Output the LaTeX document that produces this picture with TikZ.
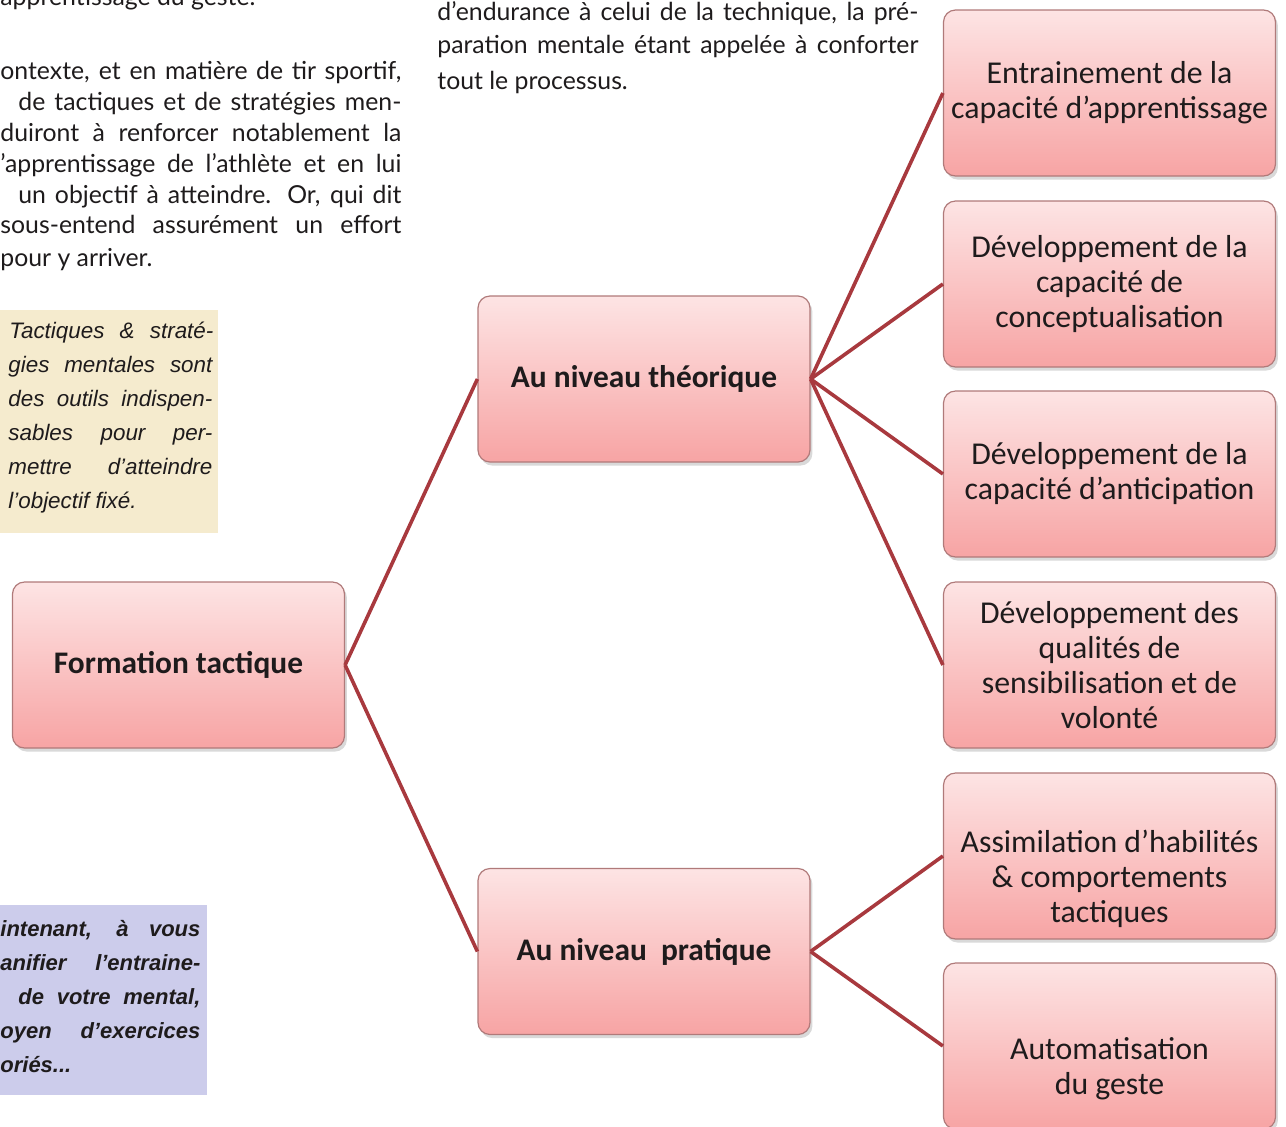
\documentclass[tikz,border=0pt]{standalone}
\usepackage{fontspec}
\setmainfont{Carlito}
\newfontfamily\gillfont{Lato}
\newfontfamily\arialfont{Liberation Sans}
\usetikzlibrary{shadows}
\definecolor{rosel}{HTML}{FDE4E4}
\definecolor{rosef}{HTML}{F7A4A4}
\definecolor{rand}{HTML}{B07A7A}
\definecolor{rougelien}{HTML}{A8393E}
\definecolor{beige}{HTML}{F5EBCE}
\definecolor{lila}{HTML}{CCCCEB}
\definecolor{encre}{HTML}{1E1B1C}
\tikzset{
  boite/.style={rounded corners=6pt,draw=rand,line width=0.6pt,top color=rosel,bottom color=rosef,
    minimum width=166pt,minimum height=83pt,align=center,text=encre,
    font=\fontsize{15.9}{17.5}\selectfont,
    drop shadow={opacity=0.3,shadow xshift=1.2pt,shadow yshift=-1.8pt}},
  niveau/.style={boite,font=\fontsize{15.7}{17.5}\selectfont\bfseries},
  lien/.style={rougelien,line width=1.8pt},
  ligne/.style={anchor=base west,inner sep=0pt,text=encre,font=\gillfont\fontsize{12.4}{14}\selectfont},
  note/.style={anchor=base west,inner sep=0pt,text=encre,font=\arialfont\itshape\fontsize{11.2}{13}\selectfont},
  noteb/.style={note,font=\arialfont\bfseries\itshape\fontsize{11}{13}\selectfont},
}
\newcommand\bas[1]{\raisebox{-12pt}[\height][\depth]{\begin{tabular}{@{}c@{}}#1\end{tabular}}}

\begin{document}
\begin{tikzpicture}[x=0.5pt,y=-0.5pt]
  \useasboundingbox (0,0) rectangle (1286,1126);
  \clip (0,0) rectangle (1286,1126);
  % texte courant, colonne de gauche
  \node[ligne] (p0) at (0,5) {apprentissage du geste.};
  \node[ligne] (p1) at (0,79) {\makebox[200.5pt][s]{ontexte, et en matière de tir sportif,}};
  \node[ligne] (p2) at (18,110) {\makebox[191.5pt][s]{de tactiques et de stratégies men-}};
  \node[ligne] (p3) at (0,141) {\makebox[200.5pt][s]{duiront à renforcer notablement la}};
  \node[ligne] (p4) at (0,172) {\makebox[200.5pt][s]{’apprentissage de l’athlète et en lui}};
  \node[ligne] (p5) at (18,203) {\makebox[191.5pt][s]{un objectif à atteindre. Or, qui dit}};
  \node[ligne] (p6) at (0,233) {\makebox[200.5pt][s]{sous-entend assurément un effort}};
  \node[ligne] (p7) at (0,266) {pour y arriver.};
  % texte courant, colonne du milieu
  \node[ligne] (q1) at (437,20) {\makebox[240.5pt][s]{d’endurance à celui de la technique, la pré-}};
  \node[ligne] (q2) at (437,53) {\makebox[240.5pt][s]{paration mentale étant appelée à conforter}};
  \node[ligne] (q3) at (437,89) {tout le processus.};
  % encadre beige
  \fill[beige] (0,310) rectangle (218,533);
  \node[note] (b1) at (9,338) {\makebox[102pt][s]{Tactiques \& straté-}};
  \node[note] (b2) at (8,372) {\makebox[102pt][s]{gies mentales sont}};
  \node[note] (b3) at (8,406) {\makebox[102pt][s]{des outils indispen-}};
  \node[note] (b4) at (8,440) {\makebox[102pt][s]{sables pour per-}};
  \node[note] (b5) at (8,474) {\makebox[102pt][s]{mettre d’atteindre}};
  \node[note] (b6) at (8,508) {l’objectif fixé.};
  % encadre lilas
  \fill[lila] (0,905) rectangle (207,1095);
  \node[noteb] (l1) at (0,936) {\makebox[100pt][s]{intenant, à vous}};
  \node[noteb] (l2) at (0,970) {\makebox[100pt][s]{anifier l’entraine-}};
  \node[noteb] (l3) at (18,1004) {\makebox[91pt][s]{de votre mental,}};
  \node[noteb] (l4) at (0,1038) {\makebox[100pt][s]{oyen d’exercices}};
  \node[noteb] (l5) at (0,1072) {oriés...};
  % arbre
  \node[niveau] (ft) at (178.5,665) {Formation tactique};
  \node[niveau] (theo) at (644,379) {Au niveau théorique};
  \node[niveau] (prat) at (644,951.5) {Au niveau\ \ pratique};
  \node[boite] (c1) at (1109.5,93) {Entrainement de la\\capacité d’apprentissage};
  \node[boite] (c2) at (1109.5,284) {Développement de la\\capacité de\\conceptualisation};
  \node[boite] (c3) at (1109.5,474) {Développement de la\\capacité d’anticipation};
  \node[boite] (c4) at (1109.5,665) {Développement des\\qualités de\\sensibilisation et de\\volonté};
  \node[boite] (c5) at (1109.5,856) {\bas{Assimilation d’habilités\\\& comportements\\tactiques}};
  \node[boite] (c6) at (1109.5,1046) {\bas{Automatisation\\du geste}};
  \draw[lien] (ft.east) -- (theo.west);
  \draw[lien] (ft.east) -- (prat.west);
  \foreach \n in {c1,c2,c3,c4}
    \draw[lien] (theo.east) -- (\n.west);
  \foreach \n in {c5,c6}
    \draw[lien] (prat.east) -- (\n.west);
\end{tikzpicture}
\end{document}
